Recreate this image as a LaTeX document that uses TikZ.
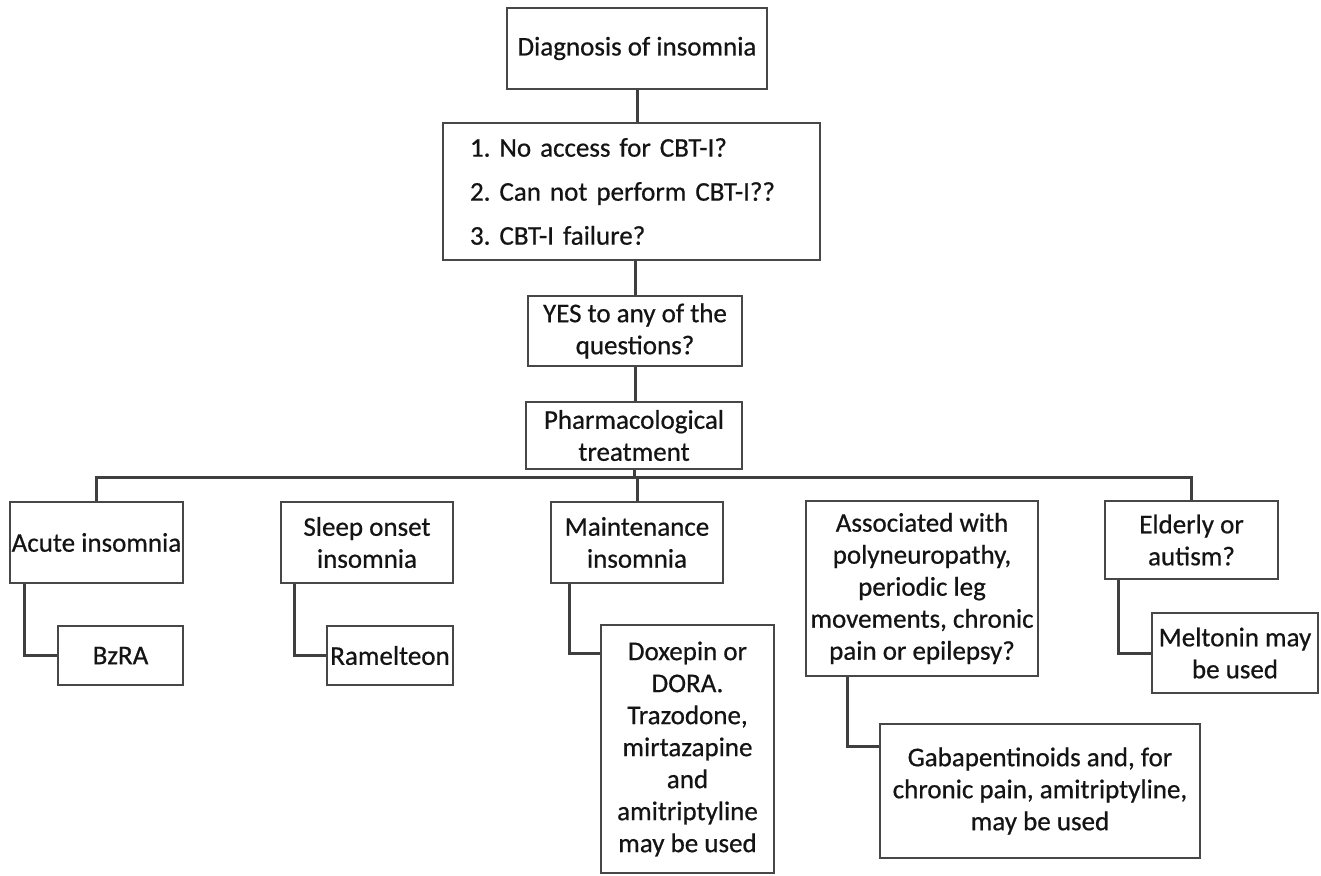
\documentclass[tikz,border=0pt]{standalone}
\usepackage{fontspec}
\setmainfont{Carlito}[FakeBold=0.6]
\frenchspacing
\begin{document}
\begin{tikzpicture}[x=1pt,y=-1pt,
  box/.style={draw=boxgray, line width=2.6pt, inner sep=0pt, align=center,
    text=black!92, font=\fontsize{27}{32}\selectfont},
  conn/.style={draw=linegray, line width=3pt}]
\definecolor{boxgray}{HTML}{474747}
\definecolor{linegray}{HTML}{3F3F3F}
\useasboundingbox[fill=white] (0,0) rectangle (1321,875);
% top chain
\node[box, minimum width=260pt, minimum height=81pt] (diag) at (637,48.5) {Diagnosis of insomnia};
\node[box, minimum width=377pt, minimum height=137pt, align=left, text width=323pt,
  inner xsep=27pt, font=\fontsize{27}{44}\selectfont] (q) at (631.5,191.5)
  {1. No access for CBT-I?\\2. Can not perform CBT-I??\\3. CBT-I failure?};
\node[box, minimum width=214pt, minimum height=70pt] (yes) at (635,331) {YES to any of the\\questions?};
\node[box, minimum width=216pt, minimum height=67pt] (pharm) at (634,435.5) {Pharmacological\\treatment};
% second row
\node[box, minimum width=173pt, minimum height=81pt] (acute) at (96.5,542.5) {Acute insomnia};
\node[box, minimum width=172pt, minimum height=81pt] (sleep) at (367,542.5) {Sleep onset\\insomnia};
\node[box, minimum width=172pt, minimum height=81pt] (maint) at (637,542.5) {Maintenance\\insomnia};
\node[box, minimum width=232pt, minimum height=175pt] (assoc) at (922,588.5) {Associated with\\polyneuropathy,\\periodic leg\\movements, chronic\\pain or epilepsy?};
\node[box, minimum width=173pt, minimum height=78pt] (elder) at (1191.5,540) {Elderly or\\autism?};
% third row
\node[box, minimum width=125pt, minimum height=59pt] (bzra) at (120.5,655.5) {BzRA};
\node[box, minimum width=126pt, minimum height=59pt] (ramel) at (390,655.5) {Ramelteon};
\node[box, minimum width=173pt, minimum height=248pt] (dox) at (687.5,749) {Doxepin or\\DORA.\\Trazodone,\\mirtazapine\\and\\amitriptyline\\may be used};
\node[box, minimum width=320pt, minimum height=134pt] (gaba) at (1040,791) {Gabapentinoids and, for\\chronic pain, amitriptyline,\\may be used};
\node[box, minimum width=166pt, minimum height=80pt] (melt) at (1235,653) {Meltonin may\\be used};
% connectors
\coordinate (bus) at (0,477);
\draw[conn] (diag.south) -- (q.north -| diag.south);
\draw[conn] (q.south -| yes.north) -- (yes.north);
\draw[conn] (yes.south) -- (pharm.north -| yes.south);
\draw[conn] (pharm.south) -- (pharm.south |- bus);
\draw[conn] (acute.north) -- (acute.north |- bus) -- (elder.north |- bus) -- (elder.north);
\draw[conn] (maint.north |- bus) -- (maint.north);
\draw[conn] ([xshift=16pt]acute.south west) |- (bzra.west);
\draw[conn] ([xshift=15pt]sleep.south west) |- (ramel.west);
\draw[conn] ([xshift=20pt]maint.south west) |- ([yshift=-30pt]dox.north west);
\draw[conn] ([xshift=43pt]assoc.south west) |- ([yshift=-24pt]gaba.north west);
\draw[conn] ([xshift=15pt]elder.south west) |- (melt.west);
\end{tikzpicture}
\end{document}
